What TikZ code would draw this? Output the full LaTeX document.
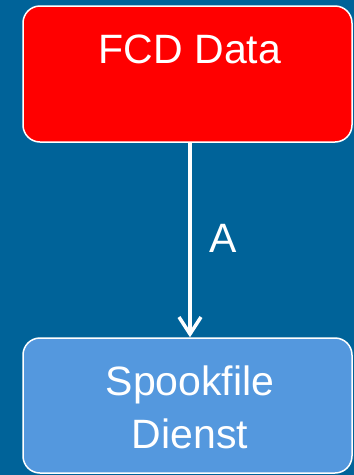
\documentclass[tikz,border=0pt]{standalone}
\usepackage{fontspec}
\setmainfont{Liberation Sans}
\usetikzlibrary{arrows.meta}
\definecolor{bgblue}{RGB}{0,99,153}
\definecolor{boxred}{RGB}{255,0,0}
\definecolor{boxblue}{RGB}{84,152,222}
\tikzset{
  block/.style={draw=white, line width=1.5pt, rounded corners=17pt, inner sep=0pt,
    minimum width=329pt, minimum height=136pt},
  lbl/.style={text=white, font=\fontsize{41}{53}\selectfont, align=center},
  flow/.style={draw=white, line width=3.5pt, -{Straight Barb[length=17pt, width=22pt]}}
}
\begin{document}
\begin{tikzpicture}[x=1pt, y=-1pt]
  % background
  \fill[bgblue] (0,0) rectangle (354,475);
  \useasboundingbox (0,0) rectangle (354,475);
  % blocks
  \node[block, fill=boxred] (fcdbox) at (187.5,74) {};
  \node[block, fill=boxblue, minimum height=135pt] (svcbox) at (187.5,405.5) {};
  % texts
  \node[lbl, anchor=base] (fcd) at (190,63) {FCD Data};
  \node[lbl, anchor=base] (spook) at (190,395) {Spookfile};
  \node[lbl, anchor=base] (dienst) at (190,448) {Dienst};
  % connector
  \draw[flow] ([xshift=2.5pt]fcdbox.south) -- ([xshift=2.5pt]svcbox.north);
  \node[lbl] (a) at (223,238) {A};
\end{tikzpicture}
\end{document}
